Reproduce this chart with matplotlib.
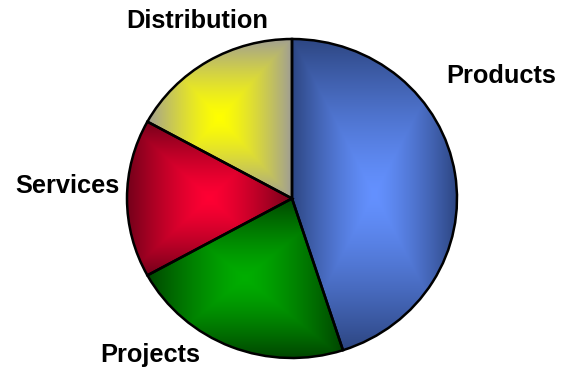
import numpy as np
import matplotlib
matplotlib.use("Agg")
import matplotlib.pyplot as plt

# share of business by segment, in percent
segments = ["Products", "Projects", "Services", "Distribution"]
shares = [45, 22, 16, 17]

# "from centre" fill: bright colour in the middle, dark colour at the rim
centre_colours = ["#6491FF", "#00AE00", "#FF0033", "#FFFF00"]
rim_colours = ["#2D4682", "#004600", "#74001A", "#A09E94"]

# label anchors in pixels (x, baseline y from top)
label_pos = [(501, 83), (150, 362), (67, 193), (197, 28)]

W, H = 562, 372
CX, CY = 292, 198.5   # pie centre, pixels from top-left
RX, RY = 165, 159.5   # pie radii, pixels


def rgb(hexcol):
    return np.array(matplotlib.colors.to_rgb(hexcol))


def wedge_bbox(w):
    a = np.radians(np.linspace(w.theta1, w.theta2, 400))
    xs = np.concatenate([[0], np.cos(a)])
    ys = np.concatenate([[0], np.sin(a)])
    return xs.min(), xs.max(), ys.min(), ys.max()


def fill_gradient(ax, w, c0, c1, n=300):
    x0, x1, y0, y1 = wedge_bbox(w)
    u = np.linspace(-1, 1, n)
    U, V = np.meshgrid(u, u)
    t = np.maximum(np.abs(U), np.abs(V)) ** 1.35
    t = t[..., None]
    img = rgb(c0) * (1 - t) + rgb(c1) * t
    im = ax.imshow(img, extent=(x0, x1, y0, y1), origin="lower",
                   interpolation="bilinear", zorder=1)
    im.set_clip_path(w)


fig = plt.figure(figsize=(W / 100, H / 100), dpi=100)
ax = fig.add_axes([0, 0, 1, 1])

wedges, _ = ax.pie(shares, startangle=90, counterclock=False, radius=1,
                   wedgeprops=dict(edgecolor="black", linewidth=1.8))

for w, c0, c1 in zip(wedges, centre_colours, rim_colours):
    w.set_facecolor("none")
    w.set_zorder(2)
    fill_gradient(ax, w, c0, c1)

# stretch the unit pie onto the pixel layout (slightly wider than tall)
ax.set_aspect("auto")
ax.set_xlim(-CX / RX, (W - CX) / RX)
ax.set_ylim(-(H - CY) / RY, CY / RY)
ax.axis("off")

for name, (px, py) in zip(segments, label_pos):
    fig.text(px / W, 1 - py / H, name, ha="center", va="baseline",
             fontsize=18.3, fontweight="bold", family="Liberation Sans")

fig.savefig("out.png", dpi=100, facecolor="white")
